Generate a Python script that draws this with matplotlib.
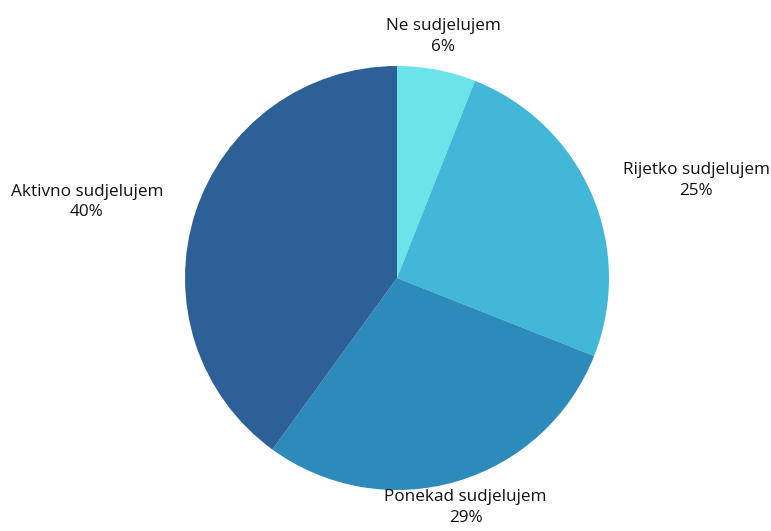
import numpy as np
import matplotlib.pyplot as plt

plt.rcParams['font.family'] = ['Open Sans', 'DejaVu Sans']

# data
categories = ['Ne sudjelujem', 'Rijetko sudjelujem', 'Ponekad sudjelujem', 'Aktivno sudjelujem']
values = [6, 25, 29, 40]
colors = ['#6ae4e9', '#42b7d7', '#2d8bbb', '#2e6098']

fig = plt.figure(figsize=(7.71, 5.31), dpi=100)
ax = fig.add_axes([185 / 771, 41 / 531, 424 / 771, 424 / 531])

labels = ['%s\n%d%%' % (c, v) for c, v in zip(categories, values)]
wedges, texts = ax.pie(values, labels=labels, colors=colors, startangle=90,
                       counterclock=False, labeldistance=1.16,
                       textprops={'fontsize': 12.3, 'color': '#111111',
                                  'multialignment': 'center', 'linespacing': 1.4})

# centre the labels that sit near the top / bottom of the pie
for w, t in zip(wedges, texts):
    ang = np.deg2rad((w.theta1 + w.theta2) / 2)
    if abs(np.cos(ang)) < 0.5:
        t.set_horizontalalignment('center')
    if np.sin(ang) < -0.9:
        # keep the bottom label inside the figure
        x, y = t.get_position()
        t.set_position((x, y + 0.03))

ax.set_xlim(-1, 1)
ax.set_ylim(-1, 1)
ax.set_aspect('equal')

fig.savefig('out.png', dpi=100)
